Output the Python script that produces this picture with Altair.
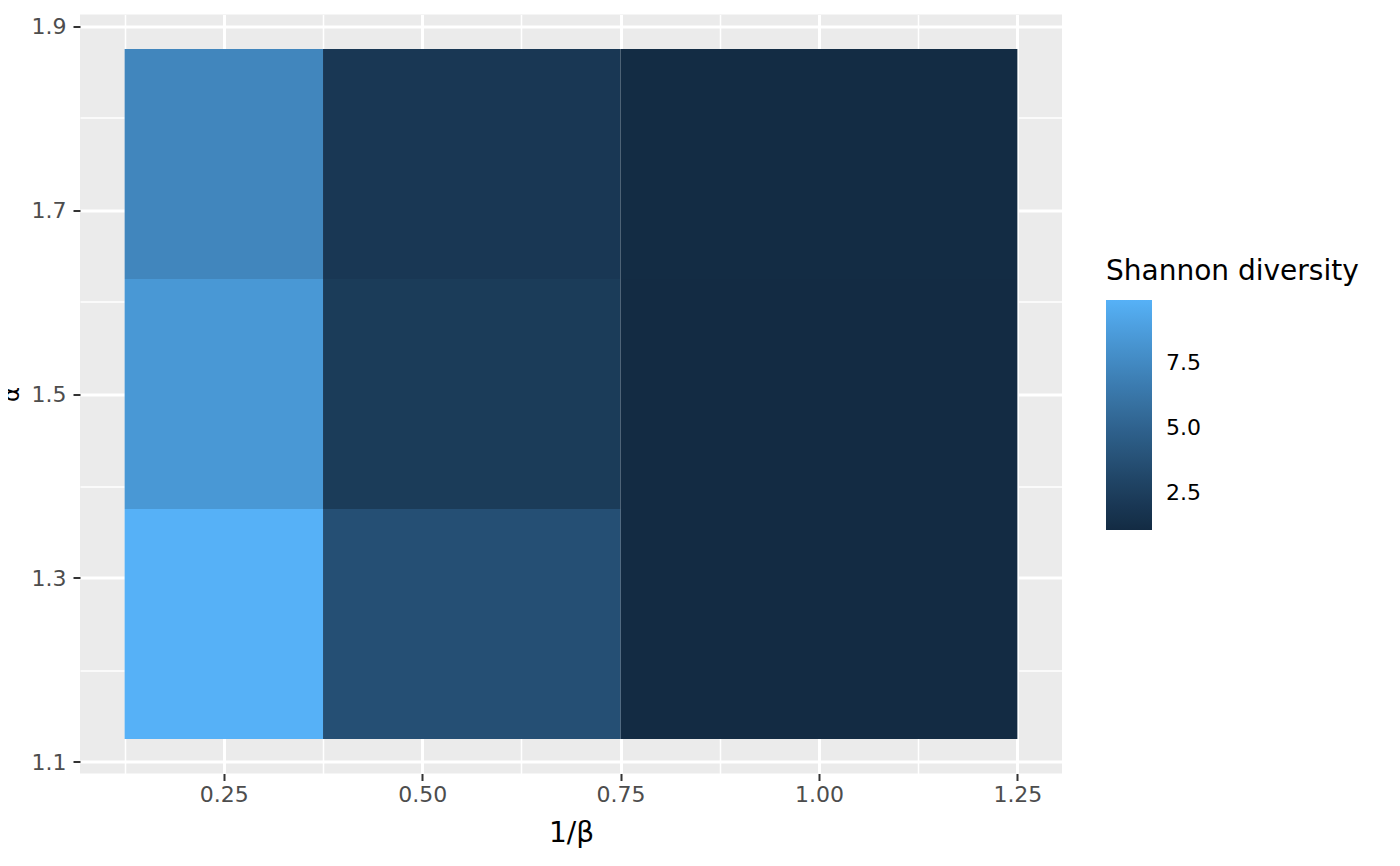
import altair as alt
import pandas as pd

# Data
inv_beta = [0.25, 0.5, 1.0]          # x centres (1/beta)
alpha = [1.25, 1.5, 1.75]            # y centres (alpha)
# Shannon diversity, rows = alpha, cols = 1/beta
shannon = [
    [9.94, 3.70, 1.07],   # alpha 1.25
    [8.40, 2.30, 1.09],   # alpha 1.5
    [7.30, 2.00, 1.12],   # alpha 1.75
]

x_major = [0.25, 0.5, 0.75, 1.0, 1.25]
x_minor = [0.125, 0.375, 0.625, 0.875, 1.125]
y_major = [1.1, 1.3, 1.5, 1.7, 1.9]
y_minor = [1.2, 1.4, 1.6, 1.8]
legend_ticks = [2.5, 5.0, 7.5]


def bounds(c):
    # tile edges at midpoints between centres, extended by half a gap at the ends
    mids = [(a + b) / 2 for a, b in zip(c[:-1], c[1:])]
    lo = [c[0] - (mids[0] - c[0])] + mids
    hi = mids + [c[-1] + (c[-1] - mids[-1])]
    return lo, hi


xlo, xhi = bounds(inv_beta)
ylo, yhi = bounds(alpha)

rows = []
for i, a in enumerate(alpha):
    for j, b in enumerate(inv_beta):
        rows.append(dict(x0=xlo[j], x1=xhi[j], y0=ylo[i], y1=yhi[i], v=shannon[i][j]))
df = pd.DataFrame(rows)

vmin = min(min(r) for r in shannon)
vmax = max(max(r) for r in shannon)
xr = xhi[-1] - xlo[0]
yr = yhi[-1] - ylo[0]
xdom = [xlo[0] - 0.05 * xr, xhi[-1] + 0.05 * xr]
ydom = [ylo[0] - 0.05 * yr, yhi[-1] + 0.05 * yr]

xscale = alt.Scale(domain=xdom, nice=False, zero=False)
yscale = alt.Scale(domain=ydom, nice=False, zero=False)
cscale = alt.Scale(domain=[vmin, vmax], range=["#132B43", "#56B1F7"],
                   interpolate="lab", nice=False, zero=False)

base = alt.Chart(df)

tiles = base.mark_rect(strokeWidth=0).encode(
    x=alt.X("x0:Q", scale=xscale,
            axis=alt.Axis(values=x_major, format=".2f", title="1/β",
                          grid=True, gridColor="white", gridWidth=3,
                          ticks=True, tickSize=7, tickWidth=2, tickColor="#333333",
                          domain=False, labelFontSize=22, labelColor="#4D4D4D",
                          labelPadding=4, titleFontSize=28, titleFontWeight="normal",
                          titleColor="black", titleBaseline="alphabetic", titleY=68)),
    x2="x1:Q",
    y=alt.Y("y0:Q", scale=yscale,
            axis=alt.Axis(values=y_major, format=".1f", title="α",
                          grid=True, gridColor="white", gridWidth=3,
                          ticks=True, tickSize=7, tickWidth=2, tickColor="#333333",
                          domain=False, labelFontSize=22, labelColor="#4D4D4D",
                          labelPadding=7, titleFontSize=23, titleFontWeight="normal",
                          titleColor="black", titleBaseline="alphabetic", titleX=-62,
                          titleAngle=270)),
    y2="y1:Q",
    color=alt.Color("v:Q", scale=cscale,
                    legend=alt.Legend(title="Shannon diversity", values=legend_ticks,
                                      format=".1f", orient="none", legendX=1026,
                                      legendY=243.5, gradientLength=230,
                                      gradientThickness=46, gradientStrokeWidth=0,
                                      labelFontSize=22, labelColor="black",
                                      labelOffset=14, labelOverlap=False,
                                      titleFontSize=28, titleFontWeight="normal",
                                      titleColor="black", titlePadding=14,
                                      titleLimit=600, direction="vertical")),
)

minor = base.mark_rect(opacity=0).encode(
    x=alt.X("x0:Q", scale=xscale,
            axis=alt.Axis(orient="top", values=x_minor, grid=True, gridColor="white",
                          gridWidth=1.5, labels=False, ticks=False, domain=False,
                          title=None)),
    x2="x1:Q",
    y=alt.Y("y0:Q", scale=yscale,
            axis=alt.Axis(orient="right", values=y_minor, grid=True, gridColor="white",
                          gridWidth=1.5, labels=False, ticks=False, domain=False,
                          title=None)),
    y2="y1:Q",
)

chart = (
    alt.layer(minor, tiles)
    .resolve_axis(x="independent", y="independent")
    .properties(width=982, height=759,
                autosize=alt.AutoSizeParams(type="none"),
                padding={"left": 72, "top": 6.5, "right": 320, "bottom": 80})
    .configure(font="DejaVu Sans")
    .configure_view(fill="#EBEBEB", stroke=None)
)

chart.save("out.html", embed_options={"renderer": "svg", "actions": False})
